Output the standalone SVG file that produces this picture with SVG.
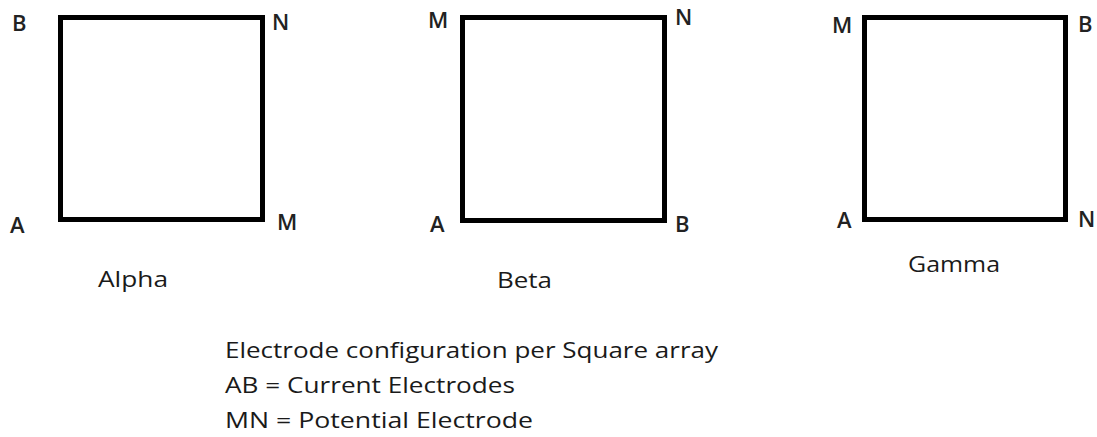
<svg xmlns="http://www.w3.org/2000/svg" width="1097" height="437" viewBox="0 0 1097 437">
<style>
.sq{fill:none;stroke:#000;stroke-width:5;}
.lb{font-family:"Open Sans","Liberation Sans",sans-serif;font-size:22px;font-weight:600;fill:#222;}
.tt{font-family:"Open Sans","Liberation Sans",sans-serif;font-size:22px;fill:#1a1a1a;}
</style>
<rect width="1097" height="437" fill="#fff"/>
<g id="alpha">
<rect class="sq" x="60.5" y="17.5" width="202" height="202"/>
<text class="lb" x="12" y="31">B</text>
<text class="lb" x="272" y="30">N</text>
<text class="lb" x="10" y="233">A</text>
<text class="lb" x="277" y="230">M</text>
<text class="tt" x="98" y="287" textLength="70" lengthAdjust="spacingAndGlyphs">Alpha</text>
</g>
<g id="beta">
<rect class="sq" x="462.5" y="17.5" width="202" height="203"/>
<text class="lb" x="428" y="28">M</text>
<text class="lb" x="675" y="25">N</text>
<text class="lb" x="430" y="232">A</text>
<text class="lb" x="675" y="232">B</text>
<text class="tt" x="497" y="288" textLength="55" lengthAdjust="spacingAndGlyphs">Beta</text>
</g>
<g id="gamma">
<rect class="sq" x="864.5" y="17.5" width="201" height="202"/>
<text class="lb" x="832" y="33">M</text>
<text class="lb" x="1078" y="32">B</text>
<text class="lb" x="837" y="228">A</text>
<text class="lb" x="1078" y="227">N</text>
<text class="tt" x="908" y="272" textLength="92" lengthAdjust="spacingAndGlyphs">Gamma</text>
</g>
<g id="connectors"/>
<g id="legend">
<text class="tt" x="225" y="358" textLength="493" lengthAdjust="spacingAndGlyphs">Electrode configuration per Square array</text>
<text class="tt" x="225" y="393" textLength="290" lengthAdjust="spacingAndGlyphs">AB = Current Electrodes</text>
<text class="tt" x="225" y="428" textLength="308" lengthAdjust="spacingAndGlyphs">MN = Potential Electrode</text>
</g>
</svg>
